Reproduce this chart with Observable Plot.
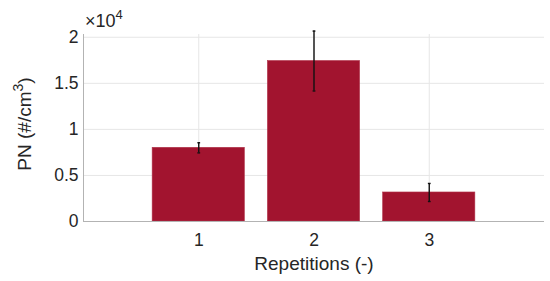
<!DOCTYPE html>
<html>
<head>
<meta charset="utf-8">
<script src="https://cdn.jsdelivr.net/npm/d3@7"></script>
<script src="https://cdn.jsdelivr.net/npm/@observablehq/plot@0.6"></script>
<style>
  html, body { margin: 0; padding: 0; background: #fff; }
</style>
</head>
<body>
<div id="chart"></div>
<script>
const repetitions = [1, 2, 3];
const meanPN = [8000, 17420, 3150];
const errPN = [550, 3250, 980];
const yTicks = [0, 5000, 10000, 15000, 20000];
const yTickLabels = ["0", "0.5", "1", "1.5", "2"];
const xTicks = [1, 2, 3];
const xTickLabels = ["1", "2", "3"];

const data = repetitions.map((r, i) => ({rep: r, mean: meanPN[i], err: errPN[i]}));
const barColor = "#A2142F";
const textColor = "#262626";
const FONT = "'Liberation Sans', Arial, sans-serif";

const plot = Plot.plot({
  width: 550,
  height: 281,
  marginLeft: 83,
  marginRight: 6,
  marginTop: 34,
  marginBottom: 60,
  style: {fontFamily: FONT, background: "#fff"},
  x: {domain: [0, 4], ticks: xTicks, label: null},
  y: {domain: [0, 20300], ticks: yTicks, label: null},
  marks: [
    Plot.gridY(yTicks, {stroke: "#e6e6e6", strokeOpacity: 1}),
    Plot.gridX(xTicks, {stroke: "#e6e6e6", strokeOpacity: 1}),
    Plot.rectY(data, {x1: d => d.rep - 0.4, x2: d => d.rep + 0.4, y: "mean", fill: barColor, stroke: "#b0324a", strokeWidth: 0.6}),
    Plot.ruleX(data, {x: "rep", y1: d => d.mean - d.err, y2: d => d.mean + d.err, stroke: "#111", strokeWidth: 1.4, clip: false}),
    Plot.link(data, {x1: d => d.rep - 0.012, x2: d => d.rep + 0.012, y1: d => d.mean - d.err, y2: d => d.mean - d.err, stroke: "#111", strokeWidth: 1.4}),
    Plot.link(data, {x1: d => d.rep - 0.012, x2: d => d.rep + 0.012, y1: d => d.mean + d.err, y2: d => d.mean + d.err, stroke: "#111", strokeWidth: 1.4, clip: false}),
    Plot.axisX(xTicks, {tickSize: 0, tickPadding: 12, fontSize: 17.5, fill: textColor, tickFormat: (d, i) => xTickLabels[i]}),
    Plot.axisY(yTicks, {tickSize: 0, tickPadding: 5, fontSize: 17.5, fill: textColor, tickFormat: (d, i) => yTickLabels[i]}),
    Plot.ruleY([0], {stroke: "#b3b3b3", strokeWidth: 1}),
    Plot.ruleX([0], {stroke: "#b3b3b3", strokeWidth: 1})
  ]
});

document.getElementById("chart").appendChild(plot);

const svg = d3.select(plot);
// x-axis label
svg.append("text")
  .attr("x", 314).attr("y", 270)
  .attr("text-anchor", "middle")
  .style("font-size", "19px")
  .style("font-family", FONT)
  .attr("fill", textColor)
  .text("Repetitions (-)");

// y-axis label with superscript
const yl = svg.append("text")
  .attr("transform", "translate(31,124) rotate(-90)")
  .attr("text-anchor", "middle")
  .style("font-size", "19px")
  .style("font-family", FONT)
  .attr("fill", textColor);
yl.append("tspan").text("PN (#/cm");
yl.append("tspan").attr("dy", -8).style("font-size", "14px").text("3");
yl.append("tspan").attr("dy", 8).text(")");

// exponent label
const ex = svg.append("text")
  .attr("x", 85).attr("y", 27)
  .attr("text-anchor", "start")
  .style("font-size", "18px")
  .style("font-family", FONT)
  .attr("fill", textColor);
ex.append("tspan").text("×10");
ex.append("tspan").attr("dy", -8).style("font-size", "13px").text("4");
</script>
</body>
</html>
